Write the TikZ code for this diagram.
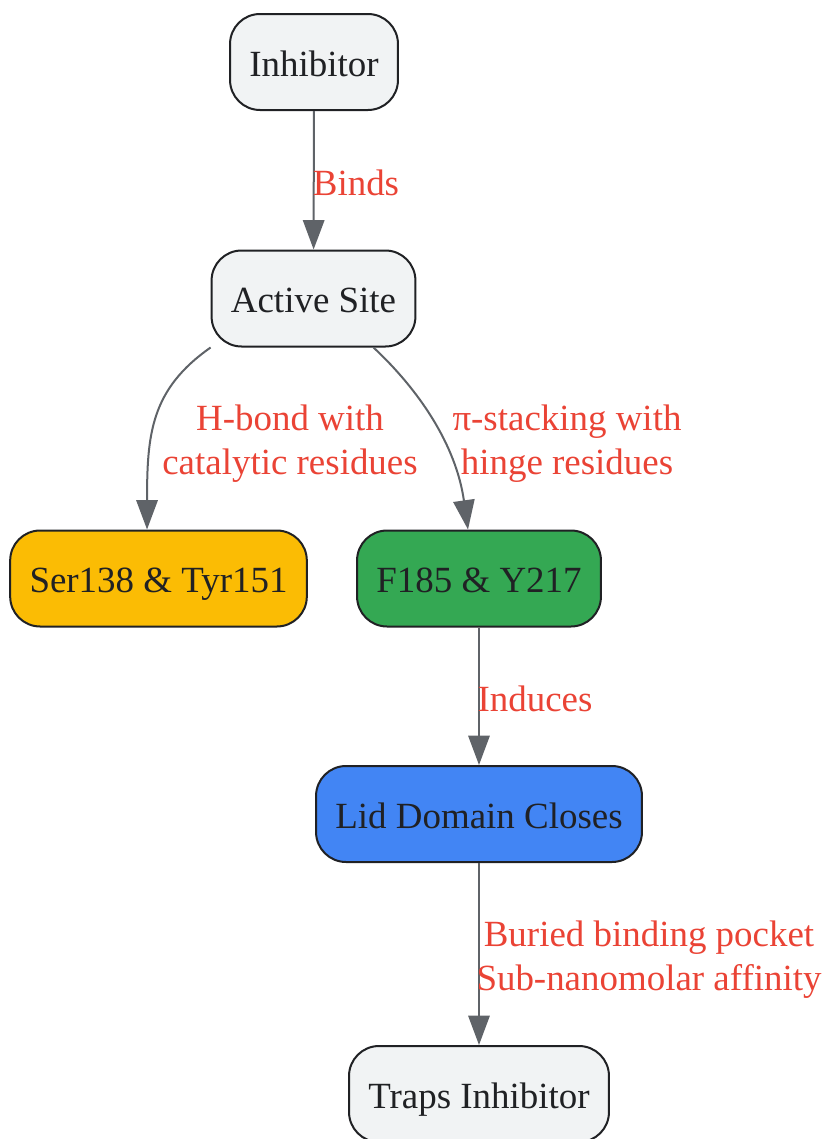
\documentclass[tikz,border=0pt]{standalone}
\usepackage{fontspec}
\setmainfont{Liberation Serif}
\usepackage{xcolor}
\usetikzlibrary{positioning, arrows.meta}

\definecolor{boxgray}{HTML}{F1F3F4}
\definecolor{boxline}{HTML}{202124}
\definecolor{boxyellow}{HTML}{FBBC04}
\definecolor{boxgreen}{HTML}{34A853}
\definecolor{boxblue}{HTML}{4285F4}
\definecolor{linkgray}{HTML}{5F6368}
\definecolor{notered}{HTML}{EA4335}

\begin{document}
\begin{tikzpicture}[x=0.75pt, y=-0.75pt,
    stage/.style={rectangle, rounded corners=22.5pt, draw=boxline, line width=1.5pt, minimum height=72pt, inner xsep=14.5pt, text height=21pt, text depth=0pt, text=boxline, font=\fontsize{27.7}{33}\selectfont},
    link/.style={draw=linkgray, line width=1.5pt, -{Triangle[length=22pt, width=16pt]}, color=linkgray},
    note/.style={text=notered, align=center, font=\fontsize{27.7}{33}\selectfont}]

    \useasboundingbox (0,0) rectangle (826,1139);

    % Boxes
    \node[stage, fill=boxgray] (inh) at (314, 62) {Inhibitor};
    \node[stage, fill=boxgray] (act) at (313.5, 298.5) {Active Site};
    \node[stage, fill=boxyellow] (ser) at (158.5, 578.5) {Ser138 \& Tyr151};
    \node[stage, fill=boxgreen] (phe) at (479, 578.5) {F185 \& Y217};
    \node[stage, fill=boxblue] (lid) at (479, 814) {Lid Domain Closes};
    \node[stage, fill=boxgray] (trap) at (479, 1094) {Traps Inhibitor};

    % Connections
    \draw[link] (inh) -- (act);
    \draw[link] (act.south west) .. controls +(-60,42) and +(0,-95) .. ([xshift=-8.6pt]ser.north);
    \draw[link] ([xshift=45pt]act.south) .. controls +(45,42) and +(-12,-85) .. ([xshift=-8.25pt]phe.north);
    \draw[link] (phe) -- (lid);
    \draw[link] (lid) -- (trap);

    % Edge labels
    \node[note] (l1) at (356, 183) {Binds};
    \node[note] (l2) at (290, 444) {H-bond with\\catalytic residues};
    \node[note] (l3) at (567, 444) {π-stacking with\\hinge residues};
    \node[note] (l4) at (535, 699) {Induces};
    \node[note] (l5) at (649, 960) {Buried binding pocket\\Sub-nanomolar affinity};

\end{tikzpicture}
\end{document}
